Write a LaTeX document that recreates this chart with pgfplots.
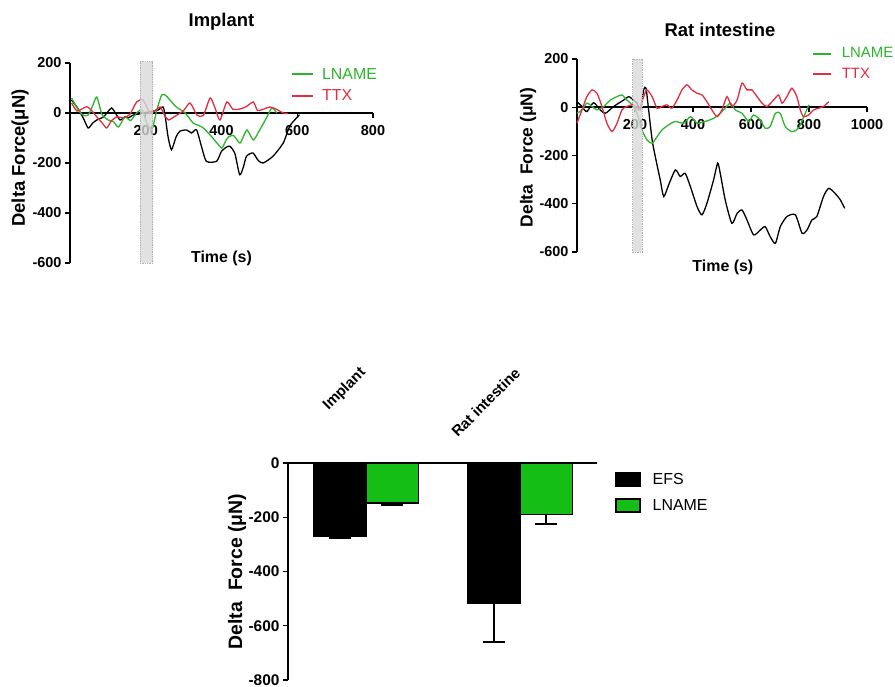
\documentclass[border=0pt]{standalone}
\usepackage{fontspec}
\setmainfont{Liberation Sans}
\usepackage{pgfplots}
\pgfplotsset{compat=1.18}
\definecolor{lgreen}{RGB}{45,180,45}
\definecolor{lred}{RGB}{225,45,65}
\definecolor{bgreen}{RGB}{20,190,20}
\pgfplotsset{
 trace/.style={
  scale only axis, clip=false,
  axis y line*=left, axis x line*=middle,
  axis line style={black, line width=1.6bp},
  tick style={black, line width=1.3bp},
  tick align=outside, major tick length=5bp,
  hide obscured x ticks=false, hide obscured y ticks=false,
  ymin=-600, ymax=200,
  ytick={-600,-400,-200,0,200},
  yticklabels={-600,-400,-200,0,200},
  ticklabel style={font=\fontsize{14.5}{16}\selectfont\bfseries},
  xticklabel style={yshift=-4bp},
  every axis label/.append style={font=\fontsize{16}{18}\selectfont\bfseries},
  ylabel style={font=\fontsize{18.5}{20}\selectfont\bfseries},
  title style={font=\fontsize{18.5}{20}\selectfont\bfseries},
  every axis plot/.append style={line width=1.3bp, no markers},
  legend style={draw=none, fill=none, font=\fontsize{16}{18}\selectfont, row sep=5bp, inner sep=0pt, cells={anchor=west}},
 }
}
\begin{document}
\begin{tikzpicture}
% ---------- Implant traces ----------
\begin{axis}[trace, at={(70bp,424bp)}, anchor=south west, width=303bp, height=200bp,
  xmin=0, xmax=800, xtick={200,400,600,800}, xticklabels={200,400,600,800},
  title={Implant}, title style={at={(axis description cs:0.5,1.178)}, anchor=center},
  xlabel={Time (s)}, xlabel style={at={(axis description cs:0.5,0.025)}, anchor=center},
  ylabel={Delta Force(μN)}, ylabel style={at={(axis description cs:-0.165,0.525)}, anchor=center},
  legend style={at={(axis description cs:0.73,0.985)}, anchor=north west}]
\addplot[black, smooth, tension=0.4, forget plot] coordinates {
(4,52) (20,20) (35,-20) (48,-60) (60,-40) (71,-28) (88,-16) (100,5) (110,20) (120,0) (132,-28) (145,-15) (153,-20) (167,-8) (180,-5) (193,0) (210,5) (233,12) (246,24) (252,-20) (259,-96) (268,-147) (280,-96) (290,-73) (308,-68) (321,-80) (334,-67) (347,-133) (360,-193) (387,-193) (400,-153) (414,-136) (422,-133) (435,-160) (448,-247) (458,-215) (466,-173) (483,-160) (497,-190) (510,-200) (536,-173) (563,-120) (580,-53) (598,-20) (606,-7)};
\addplot[lgreen, smooth, tension=0.4, legend image code/.code={\draw[lgreen, line width=2bp] (0bp,0bp) -- (21bp,0bp); \path (27bp,0bp);}] coordinates {
(4,60) (15,30) (26,4) (37,-10) (48,-8) (60,30) (71,64) (84,-4) (101,-28) (115,-35) (128,-56) (145,-16) (160,-30) (176,0) (190,12) (203,-40) (216,-68) (229,10) (242,72) (253,70) (264,52) (280,25) (304,0) (325,-40) (340,-50) (352,-60) (370,-88) (388,-120) (401,-140) (410,-115) (418,-96) (432,-90) (449,-120) (467,-68) (484,-108) (500,-70) (520,-16) (533,20) (546,0)};
\addlegendentry{\textcolor{lgreen}{LNAME}}
\addplot[lred, smooth, tension=0.4, legend image code/.code={\draw[lred, line width=2bp] (0bp,0bp) -- (21bp,0bp); \path (27bp,0bp);}] coordinates {
(4,40) (18,8) (30,15) (45,25) (58,8) (71,-16) (85,-40) (97,-60) (110,-30) (125,-15) (140,-20) (158,-5) (176,44) (193,52) (211,0) (225,10) (238,24) (250,-10) (260,-28) (275,-15) (299,8) (317,40) (335,-8) (352,-10) (370,60) (383,20) (396,-28) (414,44) (430,15) (449,16) (465,25) (484,44) (495,10) (510,15) (528,24) (545,15) (563,0) (576,-2)};
\addlegendentry{\textcolor{lred}{TTX}}
\addplot[fill=gray!30, draw=gray!60, densely dotted, line width=0.8bp, fill opacity=0.8, forget plot] coordinates {(185,-600) (218,-600) (218,205) (185,205)} -- cycle;
\end{axis}
% ---------- Rat intestine traces ----------
\begin{axis}[trace, at={(577bp,435bp)}, anchor=south west, width=290bp, height=193bp,
  xmin=0, xmax=1000, xtick={200,400,600,800,1000}, xticklabels={200,400,600,800,1000},
  title={Rat intestine}, title style={at={(axis description cs:0.493,1.118)}, anchor=center},
  xlabel={Time (s)}, xlabel style={at={(axis description cs:0.503,-0.078)}, anchor=center},
  ylabel={Delta\ \ Force (μN)}, ylabel style={at={(axis description cs:-0.169,0.49)}, anchor=center, font=\fontsize{17.5}{19}\selectfont\bfseries},
  legend style={at={(axis description cs:0.81,1.07)}, anchor=north west, font=\fontsize{15}{17}\selectfont}]
\addplot[black, smooth, tension=0.4, forget plot] coordinates {
(0,23) (17,3) (34,-18) (57,19) (80,-11) (98,-25) (126,3) (161,30) (178,44) (195,30) (207,17) (218,-11) (230,72) (238,79) (247,-11) (259,-135) (270,-205) (287,-301) (299,-370) (316,-322) (339,-260) (356,-287) (373,-274) (391,-329) (414,-412) (431,-446) (448,-398) (471,-301) (485,-232) (494,-274) (511,-384) (534,-481) (552,-440) (569,-426) (586,-467) (609,-529) (632,-509) (649,-495) (666,-536) (684,-564) (701,-495) (724,-453) (753,-446) (776,-522) (793,-509) (810,-467) (827,-453) (850,-370) (868,-336) (890,-357) (908,-384) (923,-419)};
\addplot[lgreen, smooth, tension=0.4, legend image code/.code={\draw[lgreen, line width=2bp] (0bp,0bp) -- (18bp,0bp); \path (26bp,0bp);}] coordinates {
(0,-25) (17,-11) (34,17) (52,3) (69,-11) (92,3) (115,30) (138,44) (155,51) (172,30) (190,10) (207,-25) (224,-94) (241,-135) (259,-149) (276,-122) (293,-94) (316,-73) (339,-59) (368,-66) (391,-39) (414,-66) (442,-59) (471,-46) (494,-25) (511,-4) (529,17) (546,-11) (569,-25) (592,-59) (609,-32) (632,-53) (649,-87) (666,-80) (684,-25) (701,-25) (718,-80) (741,-101) (764,-87) (787,-25) (800,10)};
\addlegendentry{\textcolor{lgreen}{LNAME}}
\addplot[lred, smooth, tension=0.4, legend image code/.code={\draw[lred, line width=2bp] (0bp,0bp) -- (18bp,0bp); \path (26bp,0bp);}] coordinates {
(0,-66) (17,-11) (34,44) (52,72) (69,58) (86,3) (103,-66) (121,-101) (138,-66) (155,-11) (172,3) (195,10) (213,-11) (230,44) (241,72) (259,44) (276,-4) (293,3) (310,10) (327,-4) (345,30) (362,72) (379,93) (396,72) (414,58) (431,51) (448,23) (465,-11) (483,-39) (500,-11) (517,44) (534,3) (552,30) (569,100) (586,72) (603,72) (621,44) (638,17) (655,3) (678,30) (695,51) (707,17) (724,44) (741,79) (758,44) (770,-11) (781,-39) (799,-32) (816,-11) (833,-4) (850,3) (868,23)};
\addlegendentry{\textcolor{lred}{TTX}}
\addplot[fill=gray!30, draw=gray!60, densely dotted, line width=0.8bp, fill opacity=0.8, forget plot] coordinates {(192,-600) (224,-600) (224,200) (192,200)} -- cycle;
\end{axis}
% ---------- Bar chart ----------
\begin{axis}[scale only axis, clip=false, at={(288bp,7bp)}, anchor=south west, width=309bp, height=217bp,
  xmin=0.494, xmax=2.5, ymin=-800, ymax=0,
  axis x line*=top, axis y line*=left,
  axis line style={black, line width=1.6bp},
  tick style={black, line width=1.3bp}, tick align=outside, major tick length=5bp,
  hide obscured x ticks=false, hide obscured y ticks=false,
  ytick={-800,-600,-400,-200,0}, yticklabels={-800,-600,-400,-200,0},
  yticklabel style={font=\fontsize{15.5}{17}\selectfont\bfseries},
  xtick={1,2}, xticklabels={Implant,Rat intestine}, major x tick style={draw=none},
  xticklabel style={yshift=90bp, rotate=45, anchor=east, font=\fontsize{15}{17}\selectfont\bfseries},
  ylabel={Delta\ \ Force (μN)},
  ylabel style={at={(axis description cs:-0.165,0.5)}, anchor=center, font=\fontsize{19.5}{21}\selectfont\bfseries},
  legend style={draw=none, fill=none, font=\fontsize{16}{18}\selectfont, row sep=9bp, inner sep=0pt, cells={anchor=west},
    at={(axis description cs:1.058,0.962)}, anchor=north west}]
\addplot[ybar, bar width=0.34, bar shift=0pt, fill=black, draw=black, line width=1.3bp,
  legend image code/.code={\draw[fill=black, draw=black, line width=1.5bp] (0bp,-6.5bp) rectangle (24bp,6.5bp); \path (34bp,0bp);},
  error bars/.cd, y dir=minus, y explicit,
  error bar style={line width=1.5bp, black},
  error mark options={rotate=90, mark size=11bp, line width=1.5bp, black}]
  coordinates {(0.83,-269) -= (0,8) (1.83,-519) -= (0,141)};
\addlegendentry{EFS}
\addplot[ybar, bar width=0.34, bar shift=0pt, fill=bgreen, draw=black, line width=1.3bp,
  legend image code/.code={\draw[fill=bgreen, draw=black, line width=1.8bp] (0bp,-6.5bp) rectangle (24bp,6.5bp); \path (34bp,0bp);},
  error bars/.cd, y dir=minus, y explicit,
  error bar style={line width=1.5bp, black},
  error mark options={rotate=90, mark size=11bp, line width=1.5bp, black}]
  coordinates {(1.17,-147) -= (0,8) (2.17,-189) -= (0,35)};
\addlegendentry{LNAME}
\end{axis}
\pgfresetboundingbox
\path (0bp,0bp) rectangle (895bp,687bp);
\end{tikzpicture}
\end{document}
